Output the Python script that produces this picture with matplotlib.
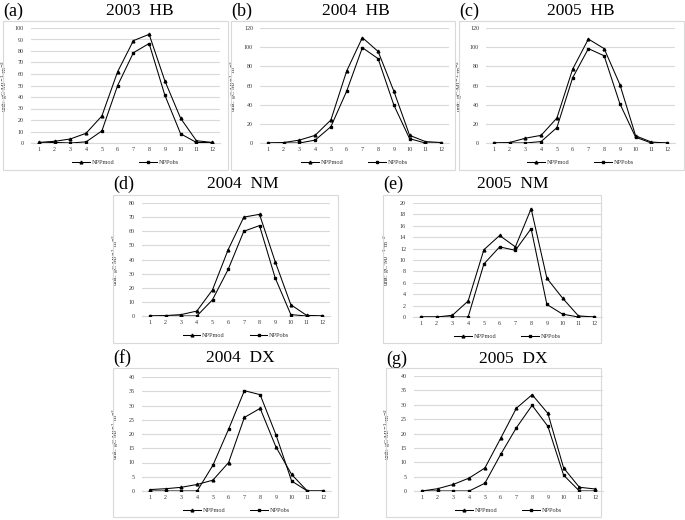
import matplotlib
matplotlib.use("Agg")
import matplotlib.pyplot as plt
from matplotlib.patches import Rectangle

months = [1, 2, 3, 4, 5, 6, 7, 8, 9, 10, 11, 12]

hb2003_mod = [0.5, 1.5, 3.5, 8.5, 23.5, 62, 89, 94.5, 54, 21.5, 2, 0.5]
hb2003_obs = [0, 0.5, 0, 1, 10.5, 50, 78.5, 86.5, 41.5, 8, 0.5, 0.3]

hb2004_mod = [0, 0.5, 3, 8, 24, 75, 110, 95.5, 54, 8, 1.5, 0.5]
hb2004_obs = [0, 0, 0, 3, 17, 54, 99.5, 88, 39.5, 4.5, 0, 0]

hb2005_mod = [0, 0.5, 5, 8, 26, 77, 108.5, 98.5, 61, 7.5, 1, 0]
hb2005_obs = [0, 0, 0, 1.5, 16, 68, 98.5, 91, 41, 6, 0, 0]

nm2004_mod = [0, 0.3, 1, 3.5, 18.5, 47, 70, 72, 38.5, 8, 0.5, 0]
nm2004_obs = [0, 0, 0, 0, 11.5, 33, 60, 64, 27, 1, 0, 0]

nm2005_mod = [0, 0, 0.3, 2.8, 11.8, 14.3, 12.3, 19, 6.8, 3.3, 0.2, 0]
nm2005_obs = [0, 0, 0, 0, 9.3, 12.3, 11.7, 15.5, 2.2, 0.5, 0, 0]

dx2004_mod = [0.5, 0.8, 1.3, 2.3, 3.8, 10, 25.8, 29, 15.5, 5.8, 0, 0]
dx2004_obs = [0, 0, 0, 0, 9, 21.7, 35.2, 33.8, 19.8, 3.5, 0, 0]

dx2005_mod = [0, 0.8, 2.3, 4.5, 8, 18.3, 28.8, 33.5, 27, 8, 1.3, 0.7]
dx2005_obs = [0, 0, 0, 0, 2.7, 12.7, 22, 29.8, 22.5, 5.5, 0, 0]

W, H = 685, 520
fig = plt.figure(figsize=(W / 100, H / 100), dpi=100)
fig.patch.set_facecolor("white")

GRID = "#d9d9d9"
SERIF = ["Liberation Serif", "DejaVu Serif"]


def fx(x):
    return x / W


def fy(y):
    return 1 - y / H


panels = [
    ("(a)", "2003  HB", hb2003_mod, hb2003_obs, 100, 10, (3, 21, 228, 170), (31, 28, 220, 143), 140, 11),
    ("(b)", "2004  HB", hb2004_mod, hb2004_obs, 120, 20, (231, 21, 455, 170), (260, 28, 449, 143), 356, 11),
    ("(c)", "2005  HB", hb2005_mod, hb2005_obs, 120, 20, (459, 21, 684, 170), (486, 28, 675, 143), 581, 11),
    ("(d)", "2004  NM", nm2004_mod, nm2004_obs, 80, 10, (113, 195, 338, 343), (142, 203, 330, 316), 243, 184),
    ("(e)", "2005  NM", nm2005_mod, nm2005_obs, 20, 2, (383, 195, 601, 343), (413, 203, 602, 317), 513, 184),
    ("(f)", "2004  DX", dx2004_mod, dx2004_obs, 40, 5, (113, 368, 338, 517), (142, 377, 331, 491), 240, 358),
    ("(g)", "2005  DX", dx2005_mod, dx2005_obs, 40, 5, (386, 368, 601, 517), (414, 376, 603, 491), 513, 359),
]

for lab, title, mod, obs, ymax, step, box, plot, tcx, ty in panels:
    bl, bt, br, bb = box
    fig.patches.append(Rectangle((fx(bl), fy(bb)), fx(br - bl), (bb - bt) / H,
                                 transform=fig.transFigure, fill=False,
                                 edgecolor=GRID, linewidth=0.8))
    pl, pt, pr, pb = plot
    ax = fig.add_axes([fx(pl), fy(pb), fx(pr - pl), (pb - pt) / H])
    ax.set_facecolor("none")
    l1, = ax.plot(months, mod, color="black", linewidth=0.75, marker="^",
                  markersize=2.0, label="NPPmod", zorder=3)
    l2, = ax.plot(months, obs, color="black", linewidth=0.75, marker="s",
                  markersize=1.8, label="NPPobs", zorder=3)
    ax.set_xlim(0.5, 12.5)
    ax.set_ylim(0, ymax)
    ax.set_yticks(list(range(0, ymax + 1, step)))
    ax.set_xticks(months)
    ax.set_xticklabels([str(m) for m in months])
    ax.yaxis.grid(True, color=GRID, linewidth=0.8)
    ax.set_axisbelow(True)
    for s in ["top", "right", "left"]:
        ax.spines[s].set_visible(False)
    ax.spines["bottom"].set_color(GRID)
    ax.spines["bottom"].set_linewidth(0.8)
    ax.tick_params(axis="x", length=0, labelsize=4.3, pad=3, labelcolor="#333333")
    ax.tick_params(axis="y", length=0, labelsize=4.3, pad=5, labelcolor="#333333")
    for t in ax.get_xticklabels() + ax.get_yticklabels():
        t.set_fontfamily(SERIF)
    ax.set_ylabel("unit: gC·MJ$^{-1}$·m$^{-2}$", fontsize=4.5, family=SERIF,
                  color="#333333")
    ax.yaxis.set_label_coords(-21.0 / (pr - pl), 0.5)
    ax.legend(handles=[l1, l2], loc="upper center", bbox_to_anchor=(0.5, -0.1),
              ncol=2, frameon=False, prop={"family": SERIF, "size": 4.5},
              handlelength=2.8, columnspacing=4, handletextpad=0.3,
              labelcolor="#333333")
    fig.text(fx(tcx), fy(ty), title, ha="center", va="center", fontsize=12.5,
             family=SERIF)
    fig.text(fx(bl), fy(ty), lab, ha="left", va="center", fontsize=13,
             family=SERIF)

fig.savefig("out.png", dpi=100, facecolor="white")
